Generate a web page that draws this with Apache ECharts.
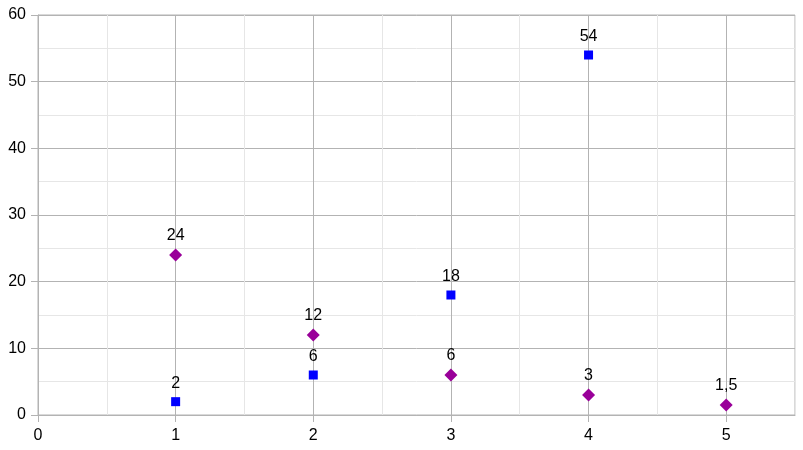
<!doctype html>
<html>
<head>
<meta charset="UTF-8">
<title>scatter</title>
<script src="https://cdn.jsdelivr.net/npm/echarts@6/dist/echarts.min.js"></script>
<style>
  html, body { margin: 0; padding: 0; background: #fff; }
  #main { width: 803px; height: 450px; }
</style>
</head>
<body>
<div id="main"></div>
<script>
// data
var blueX = [1, 2, 3, 4];
var blueY = [2, 6, 18, 54];
var purpleX = [1, 2, 3, 4, 5];
var purpleY = [24, 12, 6, 3, 1.5];

var major = '#b3b3b3';
var minor = '#e6e6e6';
var font = 'Liberation Sans, Arial, sans-serif';

function pairs(xs, ys) {
    var out = [];
    for (var i = 0; i < xs.length; i++) out.push([xs[i], ys[i]]);
    return out;
}

function commaLabel(p) {
    return String(p.value[1]).replace('.', ',');
}

var myChart = echarts.init(document.getElementById('main'));

var option = {
    animation: false,
    grid: {
        left: 38, right: 8, top: 15, bottom: 35,
        show: true, borderColor: major, borderWidth: 1
    },
    xAxis: [
        {
            // labels + ticks
            type: 'value', min: 0, max: 5.5, interval: 1,
            axisLine: { show: true, lineStyle: { color: major } },
            axisTick: { show: true, length: 7, lineStyle: { color: major } },
            axisLabel: { color: '#000', fontSize: 16, fontFamily: font, margin: 13, showMaxLabel: false },
            splitLine: { show: false }
        },
        {
            // grid lines every 0.5, major on integers
            type: 'value', min: 0, max: 5.5, interval: 0.5, position: 'bottom',
            axisLine: { show: false }, axisTick: { show: false }, axisLabel: { show: false },
            splitLine: { show: true, lineStyle: { color: [major, minor], width: 1 } }
        }
    ],
    yAxis: {
        type: 'value', min: 0, max: 60, interval: 10,
        axisLine: { show: true, lineStyle: { color: major } },
        axisTick: { show: true, length: 7, lineStyle: { color: major } },
        axisLabel: { color: '#000', fontSize: 16, fontFamily: font, margin: 12 },
        splitLine: { show: true, lineStyle: { color: major } },
        minorSplitLine: { show: true, lineStyle: { color: minor } },
        minorTick: { show: false, splitNumber: 2 }
    },
    series: [
        {
            type: 'scatter', xAxisIndex: 0,
            symbol: 'rect', symbolSize: 9,
            itemStyle: { color: '#0000ff', opacity: 1 },
            label: { show: true, position: 'top', distance: 6, color: '#000', opacity: 1, fontSize: 16, fontFamily: font, formatter: commaLabel },
            data: pairs(blueX, blueY)
        },
        {
            type: 'scatter', xAxisIndex: 0,
            symbol: 'diamond', symbolSize: 13,
            itemStyle: { color: '#990099', opacity: 1 },
            label: { show: true, position: 'top', distance: 5, color: '#000', opacity: 1, fontSize: 16, fontFamily: font, formatter: commaLabel },
            data: pairs(purpleX, purpleY)
        }
    ]
};

myChart.setOption(option);
</script>
</body>
</html>
